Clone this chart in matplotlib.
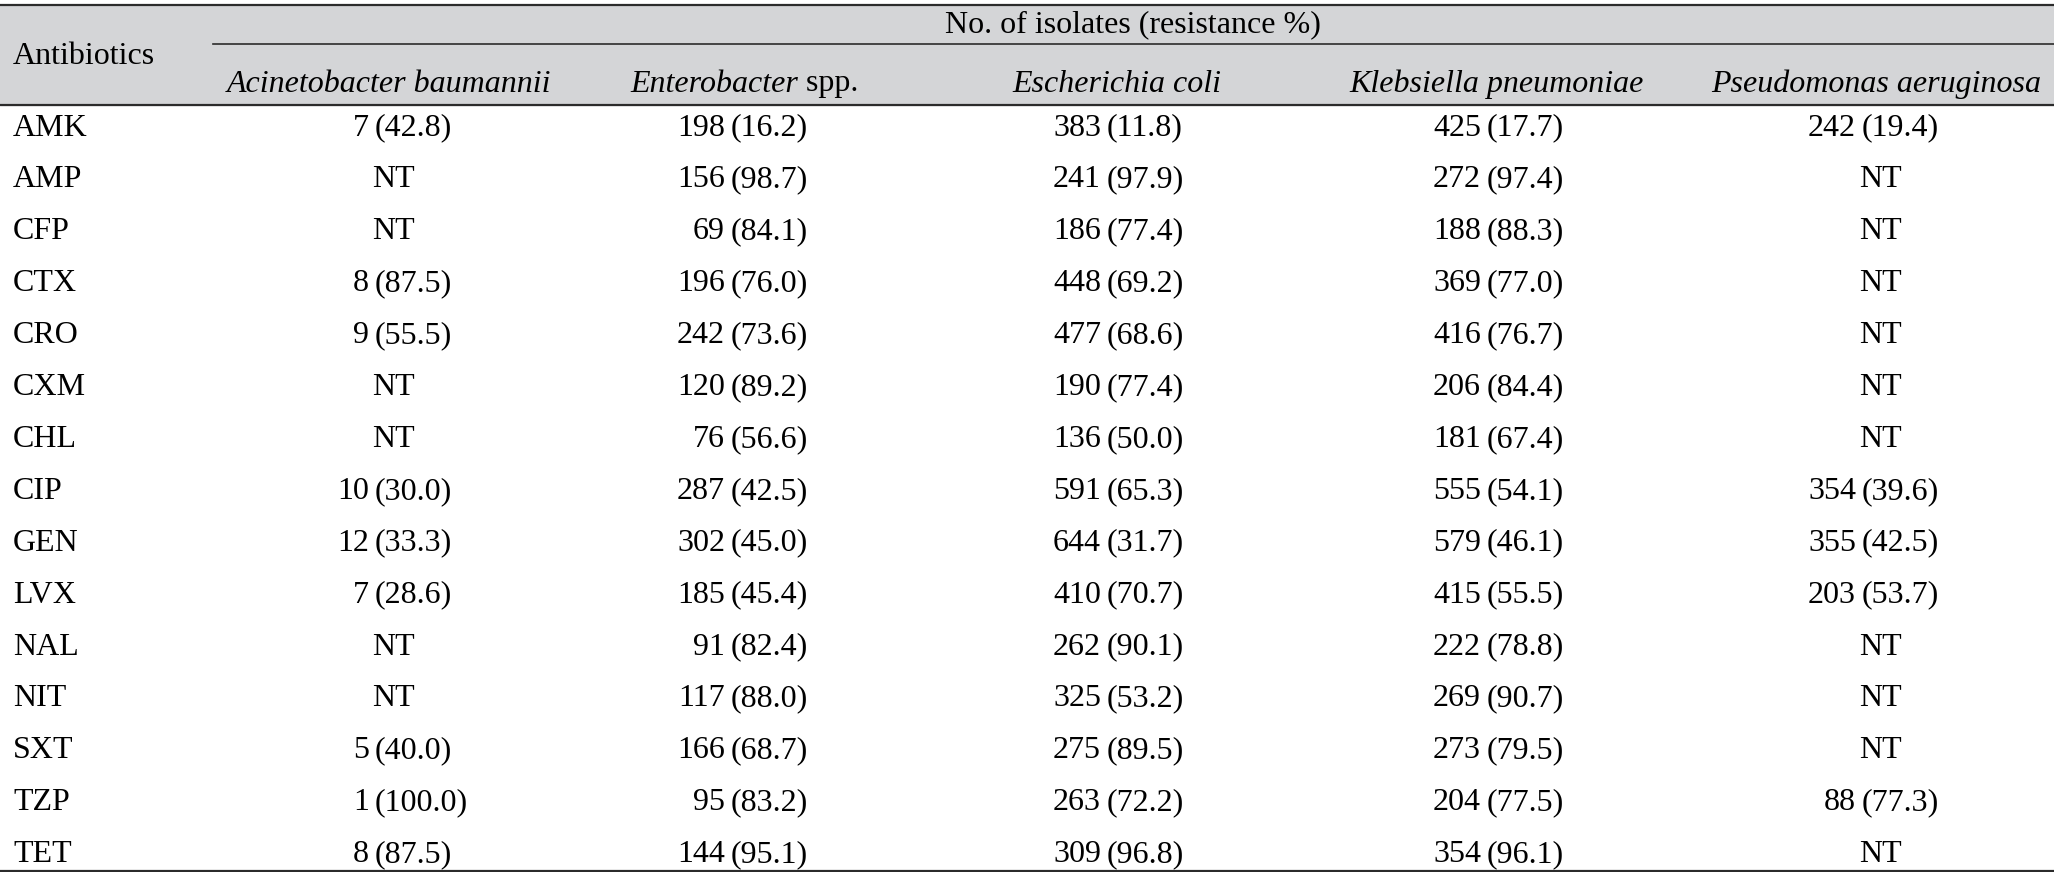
import matplotlib.pyplot as plt
import matplotlib as mpl

mpl.rcParams['font.family'] = ['Liberation Serif', 'DejaVu Serif']

antibiotics = ['AMK', 'AMP', 'CFP', 'CTX', 'CRO', 'CXM', 'CHL', 'CIP', 'GEN',
               'LVX', 'NAL', 'NIT', 'SXT', 'TZP', 'TET']
species = ['Acinetobacter baumannii', 'Enterobacter spp.', 'Escherichia coli',
           'Klebsiella pneumoniae', 'Pseudomonas aeruginosa']

# (count, resistance %) per species, None = NT
acinetobacter = [(7, 42.8), None, None, (8, 87.5), (9, 55.5), None, None, (10, 30.0),
                 (12, 33.3), (7, 28.6), None, None, (5, 40.0), (1, 100.0), (8, 87.5)]
enterobacter = [(198, 16.2), (156, 98.7), (69, 84.1), (196, 76.0), (242, 73.6), (120, 89.2),
                (76, 56.6), (287, 42.5), (302, 45.0), (185, 45.4), (91, 82.4), (117, 88.0),
                (166, 68.7), (95, 83.2), (144, 95.1)]
ecoli = [(383, 11.8), (241, 97.9), (186, 77.4), (448, 69.2), (477, 68.6), (190, 77.4),
         (136, 50.0), (591, 65.3), (644, 31.7), (410, 70.7), (262, 90.1), (325, 53.2),
         (275, 89.5), (263, 72.2), (309, 96.8)]
klebsiella = [(425, 17.7), (272, 97.4), (188, 88.3), (369, 77.0), (416, 76.7), (206, 84.4),
              (181, 67.4), (555, 54.1), (579, 46.1), (415, 55.5), (222, 78.8), (269, 90.7),
              (273, 79.5), (204, 77.5), (354, 96.1)]
pseudomonas = [(242, 19.4), None, None, None, None, None, None, (354, 39.6),
               (355, 42.5), (203, 53.7), None, None, None, (88, 77.3), None]
columns = [acinetobacter, enterobacter, ecoli, klebsiella, pseudomonas]

W, H = 2054, 872
fig = plt.figure(figsize=(W / 100, H / 100), dpi=100)
ax = fig.add_axes([0, 0, 1, 1])
ax.set_xlim(0, W)
ax.set_ylim(H, 0)
ax.axis('off')
renderer = fig.canvas.get_renderer()

fs = 23
line_col = '#2b2b2b'
head_top, head_bot, sub_y = 5, 105, 44
row0, row_h = 128, 51.9
col_centers = [389, 744, 1117, 1497, 1876]
col_align = [372, 728, 1104, 1484, 1859]

# header band
ax.add_patch(plt.Rectangle((0, head_top), W, head_bot - head_top, color='#d4d5d7', zorder=0))
ax.plot([0, W], [head_top, head_top], color=line_col, lw=1.6)
ax.plot([213, W], [sub_y, sub_y], color=line_col, lw=1.2)
ax.plot([0, W], [head_bot, head_bot], color=line_col, lw=1.6)

ax.text(13, 57, 'Antibiotics', fontsize=fs, ha='left', va='center')
ax.text(1133, 25, 'No. of isolates (resistance %)', fontsize=fs, ha='center', va='center')
for name, cx in zip(species, col_centers):
    if name.endswith(' spp.'):
        genus = name[:-5]
        t1 = ax.text(0, 84, genus, fontsize=fs, ha='left', va='center', style='italic')
        t2 = ax.text(0, 84, ' spp.', fontsize=fs, ha='left', va='center')
        w1 = t1.get_window_extent(renderer).width
        w2 = t2.get_window_extent(renderer).width
        x0 = cx - (w1 + w2) / 2
        t1.set_x(x0)
        t2.set_x(x0 + w1)
    else:
        ax.text(cx, 84, name, fontsize=fs, ha='center', va='center', style='italic')

for i, ab in enumerate(antibiotics):
    y = row0 + i * row_h
    ax.text(13, y, ab, fontsize=fs, ha='left', va='center')
    for col, cx, xa in zip(columns, col_centers, col_align):
        v = col[i]
        if v is None:
            ax.text(cx + 4, y, 'NT', fontsize=fs, ha='center', va='center')
        else:
            ax.text(xa - 3, y, str(v[0]), fontsize=fs, ha='right', va='center')
            ax.text(xa + 3, y, '(%.1f)' % v[1], fontsize=fs, ha='left', va='center')

ax.plot([0, W], [H - 1.5, H - 1.5], color=line_col, lw=1.6)

fig.savefig('out.png', dpi=100)
